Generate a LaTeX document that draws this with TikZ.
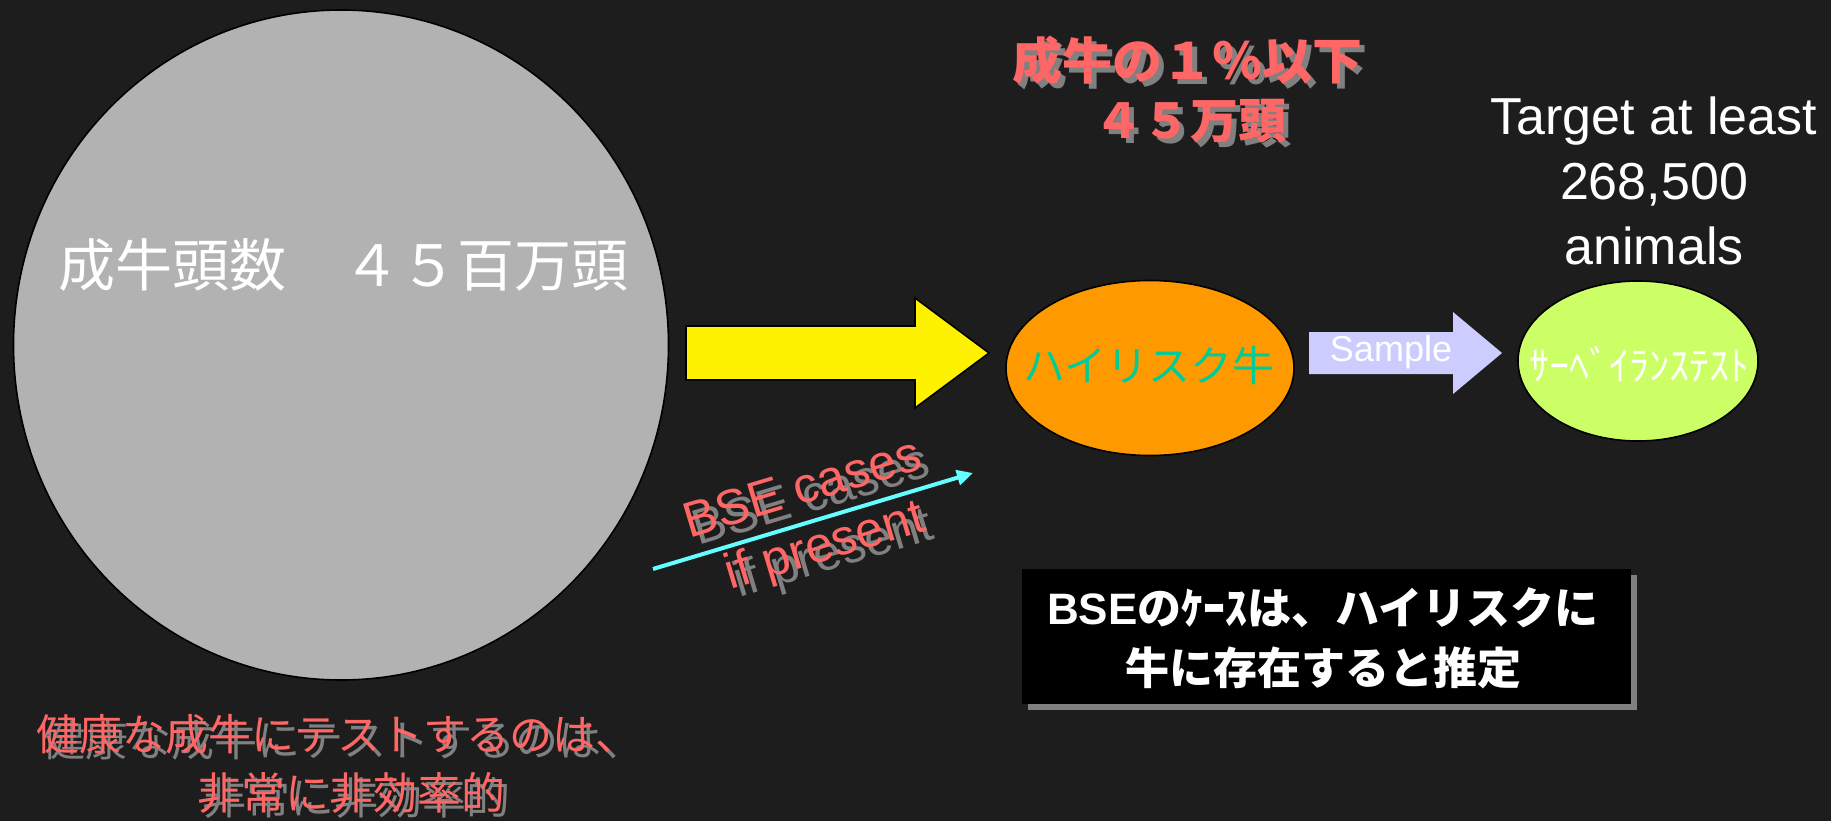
\documentclass[tikz,border=0pt]{standalone}
\usepackage{fontspec}
\setmainfont{Liberation Sans}
\newfontfamily\jp{Noto Sans CJK JP}
\usetikzlibrary{shapes.geometric,arrows.meta}
\definecolor{bg}{RGB}{29,29,29}
\definecolor{circgray}{RGB}{178,178,178}
\definecolor{orangec}{RGB}{255,153,0}
\definecolor{limec}{RGB}{204,255,102}
\definecolor{redt}{RGB}{255,102,102}
\definecolor{shadowc}{RGB}{128,128,128}
\definecolor{cyanc}{RGB}{102,255,255}
\definecolor{lavender}{RGB}{204,204,255}
\definecolor{tealt}{RGB}{0,204,153}
% text with a drop shadow: #1 right shift, #2 down shift, #3 text
\newcommand\shd[3]{\makebox[0pt][l]{\hspace*{#1}\raisebox{-#2}[0pt][0pt]{\textcolor{shadowc}{#3}}}#3}
\tikzset{
  txt/.style={inner sep=0pt, outer sep=0pt},
  redtxt/.style={txt, text=redt},
  blob/.style={ellipse, draw=black, line width=1.6pt, inner sep=0pt},
}
\begin{document}
\begin{tikzpicture}[x=1pt,y=-1pt]
\fill[bg] (0,0) rectangle (1831,821);
\useasboundingbox (0,0) rectangle (1831,821);

% big herd circle
\node[blob, fill=circgray, minimum width=655pt, minimum height=670pt] (herd) at (341,345) {};
\node[txt, text=white, font=\jp\fontsize{57}{68}\selectfont] (herdlbl) at (343,265) {成牛頭数　４５百万頭};

% yellow block arrow
\draw[fill=yellow, draw=black, line width=1.6pt, line join=miter]
  (686,326) -- (915,326) -- (915,298) -- (989,353) -- (915,408) -- (915,380) -- (686,380) -- cycle;

% high risk ellipse
\node[blob, fill=orangec, minimum width=288pt, minimum height=175pt] (hr) at (1150,368) {};
\node[txt, text=tealt, font=\jp\fontsize{42}{50}\selectfont] (hrlbl) at (1149,366) {ハイリスク牛};

% sample block arrow
\fill[lavender]
  (1309,332) -- (1453,332) -- (1453,312) -- (1502,353) -- (1453,394) -- (1453,374) -- (1309,374) -- cycle;
\node[txt, text=white, font=\fontsize{36}{42}\selectfont, anchor=base] (samp) at (1391,361) {Sample};

% surveillance ellipse
\node[blob, fill=limec, minimum width=240pt, minimum height=160pt] (surv) at (1638,361) {};
\node[txt, text=white, font=\jp\fontsize{40}{48}\selectfont] (survlbl) at (1639,364) {ｻｰﾍﾞｲﾗﾝｽﾃｽﾄ};

% target text
\node[txt, text=white, font=\fontsize{52}{60}\selectfont, anchor=base] (tg1) at (1654,135) {Target at least};
\node[txt, text=white, font=\fontsize{52}{60}\selectfont, anchor=base] (tg2) at (1654,200) {268,500};
\node[txt, text=white, font=\fontsize{52}{60}\selectfont, anchor=base] (tg3) at (1654,264) {animals};

% top red text
\node[redtxt, font=\jp\bfseries\fontsize{50}{60}\selectfont] (top1) at (1187,60) {\shd{5pt}{5pt}{成牛の１％以下}};
\node[redtxt, font=\jp\bfseries\fontsize{48}{60}\selectfont] (top2) at (1190,121) {\shd{5pt}{5pt}{４５万頭}};

% cyan arrow with label
\coordinate (cs) at (653,569);
\coordinate (ce) at (973,473);
\draw[cyanc, line width=4pt, -{Triangle[length=16pt,width=15pt]}] (cs) -- (ce);
\node[redtxt, font=\fontsize{50}{60}\selectfont, anchor=base, rotate=16.7] (bse1) at (807,503) {\shd{6pt}{10pt}{BSE cases}};
\node[redtxt, font=\fontsize{50}{60}\selectfont, anchor=base, rotate=16.7] (bse2) at (829,560) {\shd{6pt}{10pt}{if present}};

% black box with shadow
\fill[shadowc] (1028,575) rectangle (1637,710);
\node[fill=black, minimum width=609pt, minimum height=135pt, inner sep=0pt, anchor=north west] (box) at (1022,569) {};
\node[txt, text=white, font=\bfseries\fontsize{44}{52}\selectfont] (box1) at (1323,608) {BSE{\jp のｹｰｽは、ハイリスクに}};
\node[txt, text=white, font=\jp\bfseries\fontsize{44}{52}\selectfont] (box2) at (1323,668) {牛に存在すると推定};

% bottom red text
\node[redtxt, font=\jp\fontsize{43}{50}\selectfont] (bot1) at (337,734) {\shd{6pt}{6pt}{健康な成牛にテストするのは、}};
\node[redtxt, font=\jp\fontsize{44}{50}\selectfont] (bot2) at (351,793) {\shd{5pt}{5pt}{非常に非効率的}};
\end{tikzpicture}
\end{document}
